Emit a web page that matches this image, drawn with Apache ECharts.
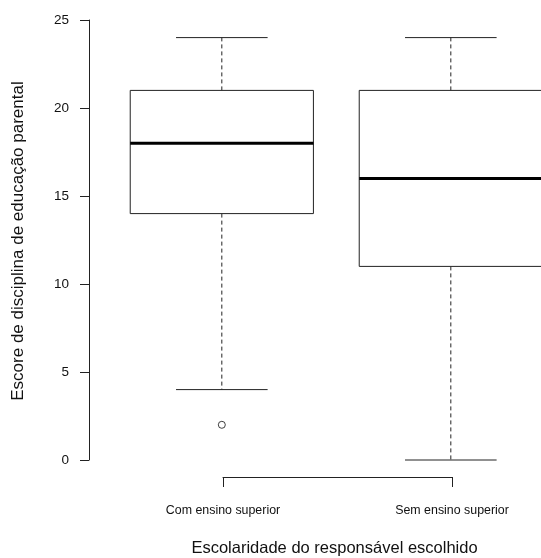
<!DOCTYPE html>
<html><head><meta charset="utf-8">
<script src="https://cdn.jsdelivr.net/npm/echarts@6/dist/echarts.min.js"></script>
<style>html,body{margin:0;padding:0;background:#fff}#c{width:541px;height:558px}</style>
</head><body><div id="c"></div>
<script>
// ---- data ----
const categories = ["Com ensino superior", "Sem ensino superior"];
const whiskerLow  = [4, 0];
const q1          = [14, 11];
const median      = [18, 16];
const q3          = [21, 21];
const whiskerHigh = [24, 24];
const outliers    = [[1, 2]]; // [group position, value]
const yTicks      = [0, 5, 10, 15, 20, 25];
const yTitle = "Escore de disciplina de educação parental";
const xTitle = "Escolaridade do responsável escolhido";

const FONT = "Liberation Sans, Arial, Helvetica, sans-serif";
const LINE = "#222";

const boxData = categories.map((c, i) => [i + 1, whiskerLow[i], q1[i], median[i], q3[i], whiskerHigh[i]]);

function renderBox(params, api) {
  const x = api.value(0);
  const lo = api.coord([x, api.value(1)]);
  const b1 = api.coord([x, api.value(2)]);
  const md = api.coord([x, api.value(3)]);
  const b3 = api.coord([x, api.value(4)]);
  const hi = api.coord([x, api.value(5)]);
  const half = api.size([0.8, 0])[0] / 2;
  const cap = half / 2;
  const cx = lo[0];
  const thin = {stroke: LINE, lineWidth: 1, fill: null};
  const dash = {stroke: LINE, lineWidth: 1, lineDash: [4, 3], fill: null};
  return {
    type: 'group',
    children: [
      {type: 'line', shape: {x1: cx, y1: b3[1], x2: cx, y2: hi[1]}, style: dash},
      {type: 'line', shape: {x1: cx, y1: b1[1], x2: cx, y2: lo[1]}, style: dash},
      {type: 'line', shape: {x1: cx - cap, y1: hi[1], x2: cx + cap, y2: hi[1]}, style: thin},
      {type: 'line', shape: {x1: cx - cap, y1: lo[1], x2: cx + cap, y2: lo[1]}, style: thin},
      {type: 'rect', shape: {x: cx - half, y: b3[1], width: 2 * half, height: b1[1] - b3[1]},
        style: {stroke: LINE, lineWidth: 1, fill: '#fff'}},
      {type: 'line', shape: {x1: cx - half, y1: md[1], x2: cx + half, y2: md[1]},
        style: {stroke: '#000', lineWidth: 3}}
    ]
  };
}

const chart = echarts.init(document.getElementById('c'), null, {renderer: 'canvas'});
chart.setOption({
  backgroundColor: '#fff',
  animation: false,
  grid: [
    {left: 89, right: 0, top: 20, bottom: 98},
    {left: 223, right: 89, top: 470, bottom: 81}
  ],
  xAxis: [
    {gridIndex: 0, type: 'value', min: 0.42, max: 0.42 + 452 / 229, show: false},
    {gridIndex: 1, type: 'category', data: categories, boundaryGap: false,
      axisLine: {show: true, lineStyle: {color: LINE, width: 1}},
      axisTick: {show: true, length: 10, lineStyle: {color: LINE}},
      axisLabel: {show: true, margin: 28, fontSize: 12.4, color: '#111', fontFamily: FONT, interval: 0},
      splitLine: {show: false}}
  ],
  yAxis: [
    {gridIndex: 0, type: 'value', min: yTicks[0], max: yTicks[yTicks.length - 1], interval: 5,
      axisLine: {show: true, lineStyle: {color: LINE, width: 1}},
      axisTick: {show: true, length: 9, lineStyle: {color: LINE}},
      axisLabel: {margin: 20, fontSize: 13.5, color: '#111', fontFamily: FONT},
      splitLine: {show: false}},
    {gridIndex: 1, type: 'value', show: false}
  ],
  series: [
    {type: 'custom', xAxisIndex: 0, yAxisIndex: 0, data: boxData, renderItem: renderBox, clip: false, z: 2},
    {type: 'scatter', xAxisIndex: 0, yAxisIndex: 0, data: outliers, symbol: 'circle', symbolSize: 7,
      itemStyle: {color: '#fff', borderColor: '#111', borderWidth: 1}, z: 3}
  ],
  graphic: [
    {type: 'text', x: 18, y: 241, rotation: Math.PI / 2,
      style: {text: yTitle, font: '17px ' + FONT, fill: '#111', textAlign: 'center', textVerticalAlign: 'middle'}},
    {type: 'text', x: 334.5, y: 548,
      style: {text: xTitle, font: '16.5px ' + FONT, fill: '#111', textAlign: 'center', textVerticalAlign: 'middle'}}
  ]
});
</script></body></html>
